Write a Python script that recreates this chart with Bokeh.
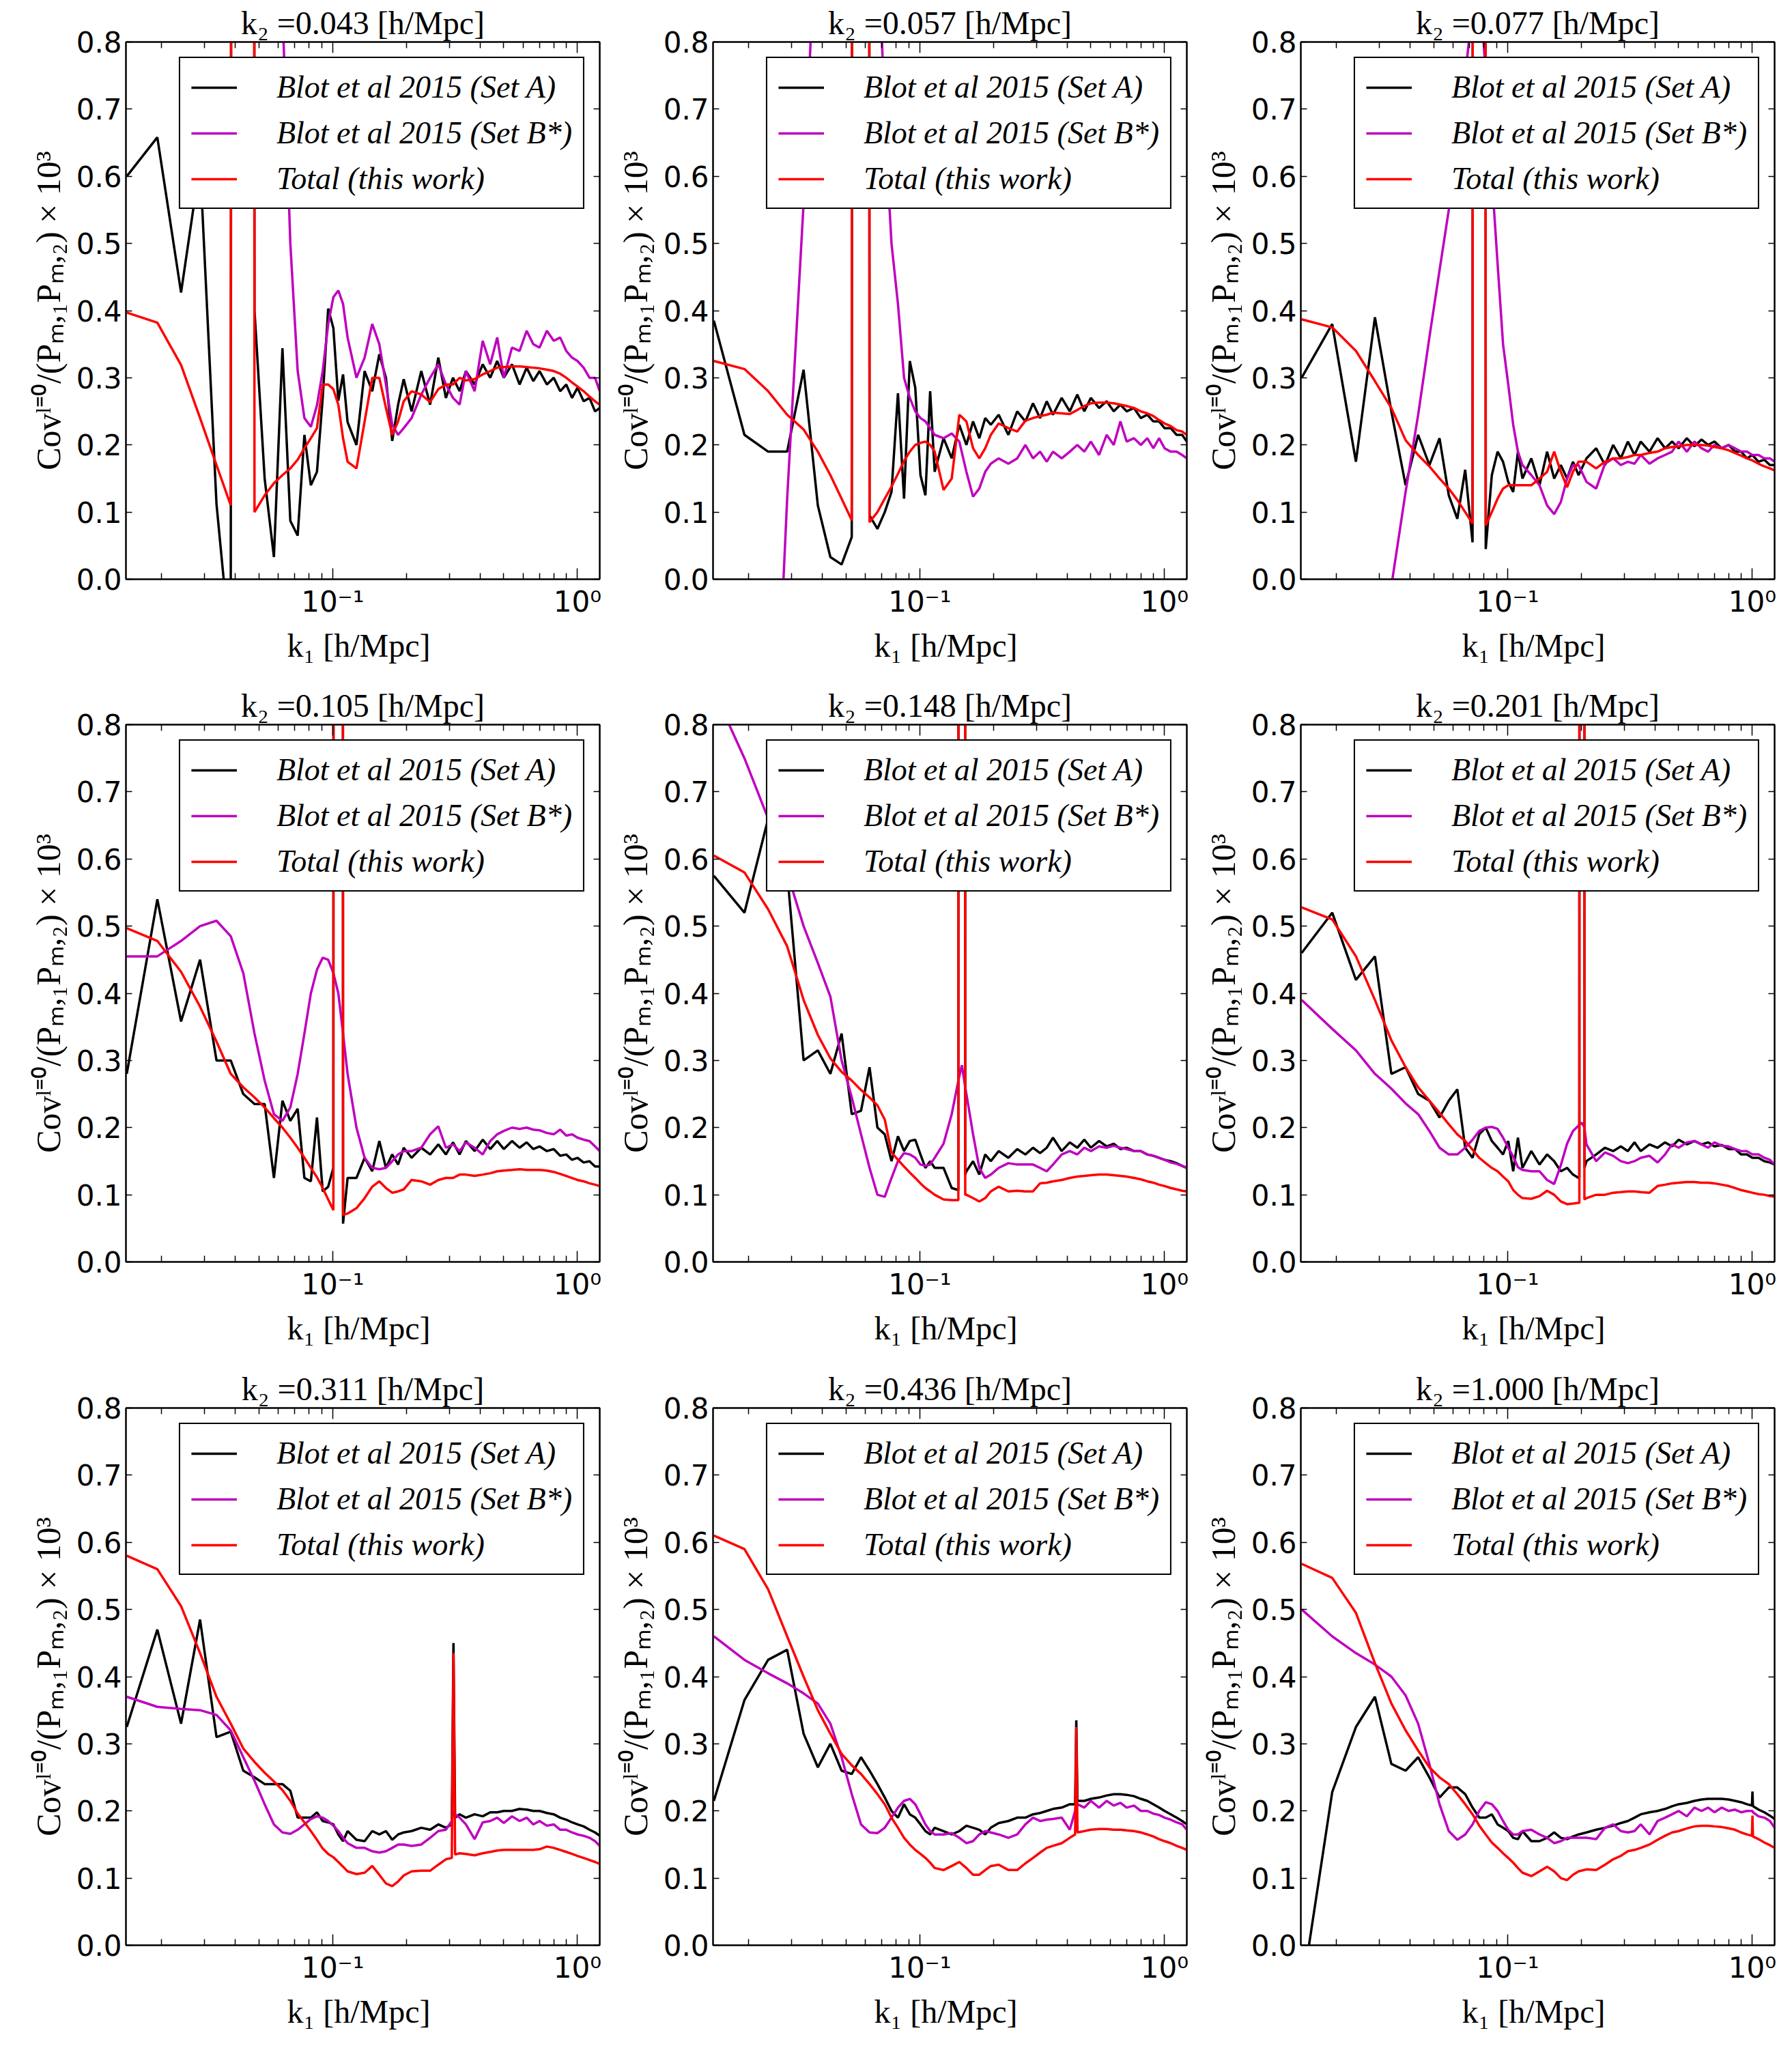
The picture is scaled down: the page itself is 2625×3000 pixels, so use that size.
from bokeh.plotting import figure
from bokeh.layouts import gridplot
from bokeh.models import FixedTicker, PrintfTickFormatter, LinearAxis, LogAxis
from bokeh.embed import file_html
from bokeh.resources import INLINE

# ---------------------------------------------------------------- k1 grid [h/Mpc]
K_LOW = [0.0144, 0.0192, 0.0240, 0.0287, 0.0335, 0.0383, 0.0431, 0.0479, 0.0527, 0.0575, 0.0623,
         0.0671, 0.0719, 0.0766, 0.0814, 0.0862, 0.0910, 0.0958, 0.1006, 0.1054, 0.1102, 0.1150]
K_MID = [0.125, 0.135, 0.145, 0.155, 0.165, 0.175, 0.185, 0.195]
K_HIGH = [0.21, 0.23, 0.25, 0.27, 0.29, 0.31, 0.33, 0.35, 0.38, 0.41, 0.44, 0.47, 0.50, 0.54,
          0.58, 0.62, 0.66, 0.70, 0.75, 0.80, 0.85, 0.90, 0.95, 1.00, 1.06, 1.12, 1.18, 1.233]
K_GRID = K_LOW + K_MID + K_HIGH

K2_LABELS = ["0.043", "0.057", "0.077", "0.105", "0.148", "0.201", "0.311", "0.436", "1.000"]

# ---------------------------------------------------------------- panel 1 (k2 = 0.043)
SET_A_1 = [0.60, 0.658, 0.427, 0.62, 0.112, -0.11, 30.0, 0.40, 0.15, 0.033, 0.344, 0.087, 0.065, 0.215, 0.14, 0.16, 0.27, 0.403, 0.374, 0.266, 0.305, 0.234,
           0.20, 0.31, 0.28, 0.335, 0.30, 0.206, 0.26, 0.298,
           0.25, 0.31, 0.26, 0.33, 0.27, 0.30, 0.28, 0.31, 0.29, 0.32, 0.30, 0.325, 0.30, 0.32, 0.29, 0.315, 0.295, 0.31, 0.29, 0.30, 0.28, 0.29, 0.27, 0.285, 0.265, 0.27, 0.25, 0.255]
SET_B_1 = [2.0, 2.0, 2.0, 2.0, 2.0, 2.0, 2.0, 2.0, 2.0, 1.5, 0.85, 0.50, 0.31, 0.24, 0.227, 0.259, 0.31, 0.38, 0.42, 0.43, 0.41, 0.36,
           0.30, 0.33, 0.38, 0.35, 0.29, 0.23, 0.215, 0.225,
           0.24, 0.275, 0.30, 0.32, 0.29, 0.27, 0.26, 0.31, 0.28, 0.355, 0.32, 0.36, 0.30, 0.345, 0.34, 0.37, 0.35, 0.345, 0.37, 0.355, 0.36, 0.34, 0.33, 0.325, 0.315, 0.30, 0.30, 0.28]
TOTAL_1 = [0.397, 0.382, 0.319, 0.24, 0.17, 0.11, 30.0, 0.10, 0.125, 0.143, 0.155, 0.165, 0.178, 0.195, 0.21, 0.225, 0.29, 0.29, 0.283, 0.26, 0.21, 0.175,
           0.165, 0.235, 0.30, 0.30, 0.255, 0.215, 0.235, 0.265,
           0.28, 0.275, 0.264, 0.283, 0.29, 0.29, 0.30, 0.296, 0.298, 0.305, 0.31, 0.315, 0.316, 0.317, 0.317, 0.316, 0.315, 0.314, 0.312, 0.31, 0.306, 0.30, 0.293, 0.287, 0.28, 0.272, 0.265, 0.26]

# ---------------------------------------------------------------- panel 2 (k2 = 0.057)
SET_A_2 = [0.385, 0.215, 0.19, 0.19, 0.312, 0.11, 0.033, 0.022, 0.063, 30.0, 0.095, 0.075, 0.10, 0.13, 0.277, 0.12, 0.325, 0.285, 0.155, 0.125, 0.28, 0.16,
           0.21, 0.18, 0.23, 0.20, 0.235, 0.21, 0.24, 0.23,
           0.245, 0.215, 0.25, 0.235, 0.262, 0.24, 0.265, 0.245, 0.27, 0.25, 0.275, 0.25, 0.27, 0.255, 0.265, 0.25, 0.26, 0.25, 0.255, 0.24, 0.245, 0.235, 0.235, 0.225, 0.225, 0.215, 0.215, 0.205]
SET_B_2 = [-2.0, -1.5, -0.5, 0.12, 0.56, 1.05, 2.0, 2.0, 2.0, 2.0, 2.0, 1.0, 0.68, 0.50, 0.41, 0.30, 0.27, 0.25, 0.24, 0.235, 0.225, 0.215,
           0.21, 0.217, 0.205, 0.16, 0.123, 0.135, 0.16, 0.172,
           0.18, 0.172, 0.18, 0.20, 0.18, 0.19, 0.175, 0.19, 0.18, 0.19, 0.20, 0.19, 0.205, 0.185, 0.215, 0.20, 0.235, 0.205, 0.21, 0.20, 0.21, 0.195, 0.21, 0.195, 0.19, 0.19, 0.185, 0.18]
TOTAL_2 = [0.325, 0.313, 0.28, 0.245, 0.223, 0.19, 0.155, 0.12, 0.088, 30.0, 0.085, 0.10, 0.12, 0.138, 0.157, 0.176, 0.19, 0.20, 0.203, 0.205, 0.20, 0.19,
           0.133, 0.15, 0.245, 0.235, 0.195, 0.18, 0.195, 0.215,
           0.232, 0.225, 0.22, 0.236, 0.24, 0.243, 0.245, 0.248, 0.247, 0.246, 0.252, 0.258, 0.262, 0.263, 0.263, 0.262, 0.26, 0.258, 0.255, 0.25, 0.247, 0.243, 0.237, 0.232, 0.228, 0.222, 0.22, 0.215]

# ---------------------------------------------------------------- panel 3 (k2 = 0.077)
SET_A_3 = [0.30, 0.38, 0.175, 0.39, 0.25, 0.14, 0.215, 0.17, 0.21, 0.125, 0.09, 0.163, 0.055, 30.0, 0.045, 0.155, 0.19, 0.175, 0.145, 0.13, 0.19, 0.15,
           0.18, 0.14, 0.19, 0.15, 0.17, 0.15, 0.175, 0.155,
           0.18, 0.195, 0.17, 0.20, 0.18, 0.205, 0.185, 0.205, 0.19, 0.21, 0.195, 0.205, 0.195, 0.21, 0.198, 0.208, 0.20, 0.205, 0.195, 0.20, 0.19, 0.19, 0.18, 0.185, 0.175, 0.178, 0.17, 0.17]
SET_B_3 = [-0.5, -0.5, -0.5, -0.3, -0.01, 0.13, 0.245, 0.36, 0.46, 0.55, 0.64, 0.75, 0.85, 0.9, 0.75, 0.6, 0.47, 0.35, 0.29, 0.23, 0.19, 0.17,
           0.155, 0.14, 0.11, 0.097, 0.115, 0.15, 0.17, 0.17,
           0.145, 0.135, 0.172, 0.18, 0.17, 0.175, 0.172, 0.185, 0.172, 0.18, 0.185, 0.19, 0.205, 0.19, 0.205, 0.195, 0.19, 0.20, 0.195, 0.20, 0.195, 0.19, 0.19, 0.185, 0.185, 0.18, 0.18, 0.175]
TOTAL_3 = [0.387, 0.375, 0.34, 0.295, 0.255, 0.207, 0.185, 0.168, 0.15, 0.135, 0.118, 0.10, 0.083, 30.0, 0.08, 0.10, 0.12, 0.135, 0.14, 0.14, 0.14, 0.14,
           0.14, 0.15, 0.16, 0.19, 0.16, 0.137, 0.16, 0.175,
           0.175, 0.165, 0.175, 0.18, 0.18, 0.182, 0.185, 0.185, 0.188, 0.19, 0.195, 0.197, 0.198, 0.20, 0.20, 0.20, 0.199, 0.197, 0.195, 0.192, 0.188, 0.184, 0.18, 0.177, 0.172, 0.168, 0.165, 0.162]

# ---------------------------------------------------------------- panel 4 (k2 = 0.105)
SET_A_4 = [0.28, 0.54, 0.358, 0.45, 0.30, 0.30, 0.25, 0.235, 0.235, 0.125, 0.24, 0.21, 0.228, 0.125, 0.12, 0.215, 0.105, 0.112, 0.14, 30.0, 0.057, 0.125,
           0.125, 0.155, 0.135, 0.18, 0.14, 0.16, 0.145, 0.17,
           0.155, 0.17, 0.16, 0.175, 0.16, 0.178, 0.16, 0.18, 0.165, 0.182, 0.168, 0.18, 0.168, 0.18, 0.17, 0.178, 0.168, 0.172, 0.165, 0.168, 0.158, 0.16, 0.152, 0.155, 0.148, 0.15, 0.142, 0.142]
SET_B_4 = [0.455, 0.455, 0.478, 0.50, 0.508, 0.485, 0.43, 0.34, 0.27, 0.22, 0.21, 0.23, 0.28, 0.34, 0.40, 0.435, 0.453, 0.45, 0.43, 0.40, 0.34, 0.28,
           0.20, 0.155, 0.14, 0.138, 0.14, 0.15, 0.16, 0.165,
           0.165, 0.17, 0.19, 0.202, 0.17, 0.175, 0.165, 0.178, 0.17, 0.16, 0.18, 0.19, 0.195, 0.20, 0.198, 0.20, 0.197, 0.196, 0.192, 0.19, 0.197, 0.188, 0.19, 0.185, 0.182, 0.18, 0.172, 0.165]
TOTAL_4 = [0.497, 0.478, 0.432, 0.38, 0.328, 0.28, 0.26, 0.245, 0.23, 0.214, 0.20, 0.185, 0.17, 0.155, 0.14, 0.126, 0.11, 0.093, 0.077, 30.0, 0.07, 0.072,
           0.08, 0.095, 0.112, 0.12, 0.11, 0.103, 0.105, 0.108,
           0.122, 0.12, 0.115, 0.122, 0.125, 0.125, 0.13, 0.13, 0.128, 0.13, 0.132, 0.135, 0.136, 0.137, 0.138, 0.137, 0.137, 0.137, 0.136, 0.134, 0.131, 0.128, 0.125, 0.122, 0.12, 0.117, 0.115, 0.113]

# ---------------------------------------------------------------- panel 5 (k2 = 0.148)
SET_A_5 = [0.575, 0.52, 0.66, 0.58, 0.30, 0.315, 0.28, 0.34, 0.22, 0.225, 0.29, 0.20, 0.19, 0.15, 0.187, 0.165, 0.18, 0.182, 0.16, 0.14, 0.15, 0.14,
           0.14, 0.11, 0.12, 0.135, 0.15, 0.13, 0.16, 0.15,
           0.165, 0.155, 0.168, 0.16, 0.17, 0.162, 0.17, 0.185, 0.165, 0.178, 0.17, 0.182, 0.17, 0.18, 0.172, 0.176, 0.168, 0.17, 0.165, 0.165, 0.16, 0.158, 0.155, 0.152, 0.15, 0.147, 0.143, 0.14]
SET_B_5 = [0.85, 0.75, 0.66, 0.58, 0.50, 0.445, 0.395, 0.30, 0.245, 0.19, 0.14, 0.10, 0.097, 0.125, 0.15, 0.162, 0.16, 0.155, 0.145, 0.143, 0.145, 0.155,
           0.176, 0.22, 0.26, 0.25, 0.19, 0.14, 0.125, 0.13,
           0.14, 0.147, 0.145, 0.145, 0.145, 0.14, 0.135, 0.145, 0.16, 0.165, 0.16, 0.17, 0.165, 0.172, 0.17, 0.173, 0.17, 0.168, 0.165, 0.165, 0.16, 0.158, 0.155, 0.152, 0.148, 0.146, 0.143, 0.14]
TOTAL_5 = [0.605, 0.58, 0.525, 0.47, 0.39, 0.338, 0.303, 0.283, 0.27, 0.256, 0.245, 0.233, 0.212, 0.163, 0.152, 0.142, 0.133, 0.125, 0.117, 0.11, 0.105, 0.10,
           0.093, 0.092, 0.092, 0.10, 0.095, 0.09, 0.095, 0.105,
           0.112, 0.105, 0.106, 0.105, 0.105, 0.117, 0.118, 0.12, 0.122, 0.125, 0.127, 0.128, 0.129, 0.13, 0.13, 0.129, 0.128, 0.127, 0.125, 0.123, 0.12, 0.118, 0.115, 0.113, 0.11, 0.108, 0.106, 0.105]

# ---------------------------------------------------------------- panel 6 (k2 = 0.201)
SET_A_6 = [0.46, 0.52, 0.42, 0.455, 0.28, 0.29, 0.25, 0.24, 0.215, 0.24, 0.257, 0.17, 0.155, 0.19, 0.20, 0.18, 0.17, 0.16, 0.18, 0.135, 0.185, 0.14,
           0.165, 0.145, 0.16, 0.15, 0.135, 0.14, 0.13, 0.125,
           0.15, 0.16, 0.17, 0.165, 0.172, 0.165, 0.178, 0.165, 0.175, 0.17, 0.178, 0.172, 0.182, 0.175, 0.18, 0.175, 0.178, 0.172, 0.174, 0.168, 0.168, 0.16, 0.16, 0.155, 0.155, 0.15, 0.148, 0.145]
SET_B_6 = [0.39, 0.347, 0.315, 0.28, 0.258, 0.236, 0.22, 0.195, 0.17, 0.16, 0.16, 0.17, 0.182, 0.195, 0.20, 0.201, 0.198, 0.185, 0.17, 0.157, 0.141, 0.137,
           0.135, 0.135, 0.122, 0.116, 0.144, 0.176, 0.195, 0.203,
           0.175, 0.15, 0.163, 0.158, 0.15, 0.147, 0.15, 0.155, 0.158, 0.148, 0.16, 0.175, 0.17, 0.178, 0.18, 0.175, 0.17, 0.178, 0.173, 0.172, 0.168, 0.165, 0.165, 0.16, 0.16, 0.155, 0.152, 0.145]
TOTAL_6 = [0.528, 0.51, 0.455, 0.39, 0.33, 0.29, 0.26, 0.24, 0.222, 0.205, 0.19, 0.18, 0.167, 0.155, 0.147, 0.14, 0.135, 0.127, 0.12, 0.107, 0.10, 0.095,
           0.094, 0.098, 0.106, 0.10, 0.09, 0.086, 0.087, 0.088,
           0.095, 0.10, 0.10, 0.103, 0.104, 0.105, 0.105, 0.104, 0.103, 0.113, 0.115, 0.117, 0.118, 0.119, 0.119, 0.118, 0.118, 0.117, 0.115, 0.113, 0.11, 0.107, 0.105, 0.103, 0.101, 0.10, 0.098, 0.097]

# ---------------------------------------------------------------- panel 7 (k2 = 0.311)
SET_A_7 = [0.325, 0.47, 0.33, 0.485, 0.31, 0.318, 0.26, 0.25, 0.24, 0.24, 0.24, 0.23, 0.19, 0.19, 0.19, 0.198, 0.185, 0.183, 0.18, 0.165, 0.155, 0.17,
           0.157, 0.155, 0.17, 0.165, 0.17, 0.157, 0.165, 0.168,
           0.17, 0.175, 0.172, 0.18, 0.175, 0.18, 0.195, 0.19, 0.195, 0.192, 0.198, 0.198, 0.20, 0.20, 0.203, 0.202, 0.20, 0.20, 0.197, 0.195, 0.19, 0.187, 0.183, 0.18, 0.177, 0.172, 0.168, 0.163]
SET_B_7 = [0.37, 0.355, 0.352, 0.35, 0.343, 0.32, 0.28, 0.245, 0.21, 0.18, 0.168, 0.166, 0.172, 0.18, 0.188, 0.192, 0.19, 0.185, 0.178, 0.17, 0.16, 0.152,
           0.145, 0.145, 0.14, 0.138, 0.14, 0.145, 0.15, 0.15,
           0.148, 0.15, 0.16, 0.17, 0.172, 0.18, 0.19, 0.18, 0.158, 0.183, 0.185, 0.19, 0.182, 0.192, 0.185, 0.19, 0.18, 0.185, 0.178, 0.18, 0.172, 0.172, 0.168, 0.165, 0.163, 0.16, 0.155, 0.148]
TOTAL_7 = [0.58, 0.56, 0.505, 0.435, 0.37, 0.33, 0.293, 0.273, 0.257, 0.244, 0.231, 0.215, 0.196, 0.183, 0.17, 0.157, 0.144, 0.136, 0.131, 0.124, 0.117, 0.11,
           0.106, 0.108, 0.118, 0.105, 0.092, 0.088, 0.095, 0.104,
           0.11, 0.111, 0.111, 0.12, 0.128, 0.13, 0.137, 0.136, 0.134, 0.137, 0.139, 0.141, 0.142, 0.142, 0.142, 0.142, 0.142, 0.143, 0.147, 0.145, 0.142, 0.139, 0.136, 0.133, 0.13, 0.127, 0.124, 0.121]

# ---------------------------------------------------------------- panel 8 (k2 = 0.436)
SET_A_8 = [0.215, 0.365, 0.425, 0.44, 0.315, 0.265, 0.30, 0.26, 0.255, 0.28, 0.26, 0.24, 0.22, 0.20, 0.19, 0.21, 0.195, 0.19, 0.18, 0.17, 0.165, 0.175,
           0.17, 0.165, 0.17, 0.178, 0.175, 0.172, 0.165, 0.175,
           0.182, 0.185, 0.19, 0.19, 0.195, 0.197, 0.20, 0.203, 0.205, 0.21, 0.21, 0.215, 0.218, 0.22, 0.223, 0.225, 0.225, 0.224, 0.222, 0.218, 0.215, 0.21, 0.205, 0.20, 0.195, 0.19, 0.185, 0.18]
SET_B_8 = [0.46, 0.425, 0.405, 0.39, 0.375, 0.36, 0.33, 0.28, 0.225, 0.18, 0.168, 0.167, 0.175, 0.19, 0.205, 0.215, 0.218, 0.21, 0.195, 0.18, 0.17, 0.165,
           0.165, 0.167, 0.16, 0.152, 0.155, 0.165, 0.17, 0.168,
           0.165, 0.16, 0.165, 0.18, 0.19, 0.185, 0.187, 0.188, 0.19, 0.172, 0.20, 0.205, 0.215, 0.205, 0.215, 0.208, 0.212, 0.205, 0.208, 0.20, 0.20, 0.196, 0.194, 0.19, 0.187, 0.183, 0.18, 0.172]
TOTAL_8 = [0.61, 0.59, 0.53, 0.46, 0.40, 0.35, 0.315, 0.285, 0.268, 0.255, 0.24, 0.225, 0.21, 0.19, 0.175, 0.16, 0.15, 0.142, 0.136, 0.13, 0.123, 0.115,
           0.112, 0.118, 0.124, 0.115, 0.105, 0.105, 0.112, 0.118,
           0.12, 0.112, 0.112, 0.122, 0.13, 0.138, 0.145, 0.148, 0.152, 0.16, 0.165, 0.17, 0.172, 0.173, 0.173, 0.172, 0.172, 0.171, 0.17, 0.168, 0.165, 0.162, 0.158, 0.155, 0.152, 0.148, 0.145, 0.142]

# ---------------------------------------------------------------- panel 9 (k2 = 1.000)
SET_A_9 = [-0.072, 0.228, 0.325, 0.37, 0.27, 0.26, 0.28, 0.25, 0.22, 0.235, 0.235, 0.225, 0.205, 0.19, 0.19, 0.195, 0.18, 0.175, 0.17, 0.16, 0.158, 0.17,
           0.155, 0.155, 0.16, 0.168, 0.16, 0.158, 0.162, 0.165,
           0.168, 0.172, 0.175, 0.178, 0.182, 0.185, 0.19, 0.195, 0.198, 0.20, 0.203, 0.207, 0.21, 0.212, 0.215, 0.217, 0.218, 0.218, 0.218, 0.217, 0.215, 0.213, 0.21, 0.208, 0.202, 0.198, 0.193, 0.188]
SET_B_9 = [0.50, 0.46, 0.435, 0.418, 0.40, 0.372, 0.33, 0.27, 0.21, 0.17, 0.157, 0.165, 0.18, 0.20, 0.213, 0.21, 0.20, 0.185, 0.172, 0.165, 0.165, 0.17,
           0.172, 0.165, 0.16, 0.152, 0.155, 0.16, 0.16, 0.16,
           0.16, 0.158, 0.175, 0.18, 0.17, 0.168, 0.17, 0.18, 0.165, 0.185, 0.19, 0.195, 0.20, 0.192, 0.205, 0.20, 0.205, 0.198, 0.205, 0.20, 0.202, 0.198, 0.20, 0.20, 0.192, 0.19, 0.185, 0.175]
TOTAL_9 = [0.568, 0.547, 0.495, 0.42, 0.36, 0.32, 0.29, 0.265, 0.25, 0.24, 0.225, 0.21, 0.195, 0.178, 0.165, 0.153, 0.145, 0.137, 0.13, 0.123, 0.115, 0.108,
           0.103, 0.11, 0.117, 0.11, 0.10, 0.097, 0.105, 0.11,
           0.113, 0.112, 0.12, 0.128, 0.133, 0.14, 0.142, 0.145, 0.15, 0.157, 0.163, 0.168, 0.17, 0.174, 0.177, 0.178, 0.178, 0.177, 0.176, 0.174, 0.172, 0.168, 0.165, 0.163, 0.158, 0.153, 0.149, 0.145]

# ---------------------------------------------------------------- diagonal spikes at k1 ~ k2 (panels 5-9)
SPIKE_K_5 = [0.1437, 0.1485, 0.1533]
SPIKE_A_5, SPIKE_B_5, SPIKE_T_5 = [0.107, 30.0, 0.13], [0.27, 0.293, 0.26], [0.092, 30.0, 0.10]
SPIKE_K_6 = [0.1964, 0.2012, 0.2060]
SPIKE_A_6, SPIKE_B_6, SPIKE_T_6 = [0.125, 30.0, 0.14], [0.205, 0.207, 0.20], [0.088, 30.0, 0.093]
SPIKE_K_7 = [0.3066, 0.3114, 0.3162]
SPIKE_A_7, SPIKE_B_7, SPIKE_T_7 = [0.18, 0.45, 0.19], [0.185, 0.20, 0.195], [0.13, 0.435, 0.135]
SPIKE_K_8 = [0.4311, 0.4359, 0.4407]
SPIKE_A_8, SPIKE_B_8, SPIKE_T_8 = [0.21, 0.335, 0.215], [0.20, 0.215, 0.21], [0.165, 0.325, 0.168]
SPIKE_K_9 = [0.9963, 1.0011, 1.0059]
SPIKE_A_9, SPIKE_B_9, SPIKE_T_9 = [0.208, 0.229, 0.207], [0.20, 0.20, 0.198], [0.163, 0.193, 0.162]

SET_A = [SET_A_1, SET_A_2, SET_A_3, SET_A_4, SET_A_5, SET_A_6, SET_A_7, SET_A_8, SET_A_9]
SET_B = [SET_B_1, SET_B_2, SET_B_3, SET_B_4, SET_B_5, SET_B_6, SET_B_7, SET_B_8, SET_B_9]
TOTAL = [TOTAL_1, TOTAL_2, TOTAL_3, TOTAL_4, TOTAL_5, TOTAL_6, TOTAL_7, TOTAL_8, TOTAL_9]
SPIKES = [None, None, None, None,
          (SPIKE_K_5, SPIKE_A_5, SPIKE_B_5, SPIKE_T_5),
          (SPIKE_K_6, SPIKE_A_6, SPIKE_B_6, SPIKE_T_6),
          (SPIKE_K_7, SPIKE_A_7, SPIKE_B_7, SPIKE_T_7),
          (SPIKE_K_8, SPIKE_A_8, SPIKE_B_8, SPIKE_T_8),
          (SPIKE_K_9, SPIKE_A_9, SPIKE_B_9, SPIKE_T_9)]

LEGEND_LABELS = ["Blot et al 2015 (Set A)", "Blot et al 2015 (Set B*)", "Total (this work)"]
COLORS = ["#000000", "#BF00BF", "#FF0000"]

# ---------------------------------------------------------------- axes / ticks
X_MIN, X_MAX = 0.01429, 1.233
Y_TICKS = [0.0, 0.1, 0.2, 0.3, 0.4, 0.5, 0.6, 0.7, 0.8]
X_TICKS = [0.1, 1.0]
X_MINOR = [0.02, 0.03, 0.04, 0.05, 0.06, 0.07, 0.08, 0.09, 0.2, 0.3, 0.4, 0.5, 0.6, 0.7, 0.8, 0.9]
X_TICK_TEXT = {0.1: "10\u207b\u00b9", 1.0: "10\u2070"}

SERIF = "Liberation Serif"
SANS = "DejaVu Sans"

COL_W = [888, 860, 861]
COL_LEFT = [184, 156, 157]
ROW_H = [978, 1000, 1001]
ROW_TOP = [61, 83, 84]
BOTTOM, RIGHT = 130, 10


def series_xy(vals, spike_k=None, spike_v=None):
    pts = list(zip(K_GRID, vals))
    if spike_k is not None:
        lo, hi = min(spike_k), max(spike_k)
        pts = [pt for pt in pts if not (lo < pt[0] < hi)]
        pts += list(zip(spike_k, spike_v))
        pts.sort(key=lambda t: t[0])
    return [pt[0] for pt in pts], [pt[1] for pt in pts]


def make_panel(i):
    r, c = divmod(i, 3)
    p = figure(width=COL_W[c], height=ROW_H[r], x_axis_type="log",
               x_range=(X_MIN, X_MAX), y_range=(0.0, 0.8),
               output_backend="svg", toolbar_location=None,
               min_border_left=COL_LEFT[c], min_border_right=RIGHT,
               min_border_top=ROW_TOP[r], min_border_bottom=BOTTOM,
               background_fill_color="white", border_fill_color="white",
               outline_line_color="black", outline_line_width=2)
    p.xgrid.grid_line_color = None
    p.ygrid.grid_line_color = None

    # title
    p.title.text = "k\u2082 =" + K2_LABELS[i] + " [h/Mpc]"
    p.title.align = "center"
    p.title.text_font = SERIF
    p.title.text_font_size = "48px"
    p.title.text_font_style = "normal"
    p.title.text_color = "black"
    p.title.standoff = 4
    p.title.offset = 0

    sp = SPIKES[i]
    series = [SET_A[i], SET_B[i], TOTAL[i]]
    for j, vals in enumerate(series):
        if sp is None:
            xs, ys = series_xy(vals)
        else:
            xs, ys = series_xy(vals, sp[0], sp[1 + j])
        p.line(xs, ys, line_color=COLORS[j], line_width=3.5, legend_label=LEGEND_LABELS[j])

    # bottom x axis
    xa = p.xaxis[0]
    xa.ticker = FixedTicker(ticks=X_TICKS, minor_ticks=X_MINOR)
    xa.major_label_overrides = X_TICK_TEXT
    xa.major_label_text_font = SANS
    xa.major_label_text_font_size = "42px"
    xa.major_label_text_color = "black"
    xa.major_label_standoff = 8
    xa.major_tick_in, xa.major_tick_out = 16, 0
    xa.minor_tick_in, xa.minor_tick_out = 9, 0
    xa.major_tick_line_width = 1.5
    xa.minor_tick_line_width = 1.5
    xa.axis_line_width = 2
    xa.axis_label = "k\u2081  [h/Mpc]"
    xa.axis_label_text_font = SERIF
    xa.axis_label_text_font_size = "48px"
    xa.axis_label_text_font_style = "normal"
    xa.axis_label_text_color = "black"
    xa.axis_label_standoff = 10

    # left y axis
    ya = p.yaxis[0]
    ya.ticker = FixedTicker(ticks=Y_TICKS)
    ya.formatter = PrintfTickFormatter(format="%.1f")
    ya.major_label_text_font = SANS
    ya.major_label_text_font_size = "42px"
    ya.major_label_text_color = "black"
    ya.major_label_standoff = 6
    ya.major_tick_in, ya.major_tick_out = 9, 0
    ya.minor_tick_line_color = None
    ya.major_tick_line_width = 1.5
    ya.axis_line_width = 2
    ya.axis_label = "Cov\u02e1\u207c\u2070/(P\u2098,\u2081P\u2098,\u2082) \u00d7 10\u00b3"
    ya.axis_label_text_font = SERIF
    ya.axis_label_text_font_size = "50px"
    ya.axis_label_text_font_style = "normal"
    ya.axis_label_text_color = "black"
    ya.axis_label_standoff = 10

    # right / top tick-only axes (labels invisible)
    ra = LinearAxis(ticker=FixedTicker(ticks=Y_TICKS), major_label_text_font_size="2px",
                    major_label_text_alpha=0.0,
                    major_label_standoff=0, major_tick_in=9, major_tick_out=0,
                    minor_tick_line_color=None, major_tick_line_width=1.5, axis_line_width=2)
    p.add_layout(ra, "right")
    ta = LogAxis(ticker=FixedTicker(ticks=X_TICKS, minor_ticks=X_MINOR), major_label_text_font_size="2px",
                 major_label_text_alpha=0.0,
                 major_label_standoff=0, major_tick_in=16, major_tick_out=0,
                 minor_tick_in=9, minor_tick_out=0, major_tick_line_width=1.5,
                 minor_tick_line_width=1.5, axis_line_width=2)
    p.add_layout(ta, "above")

    lg = p.legend[0]
    lg.location = "top_right"
    lg.margin = 22
    lg.padding = 16
    lg.spacing = 14
    lg.glyph_width = 67
    lg.glyph_height = 30
    lg.label_standoff = 58
    lg.label_text_font = SERIF
    lg.label_text_font_style = "italic"
    lg.label_text_font_size = "46px"
    lg.label_text_color = "black"
    lg.border_line_color = "black"
    lg.border_line_alpha = 1.0
    lg.border_line_width = 2
    lg.background_fill_color = "white"
    lg.background_fill_alpha = 1.0
    return p


panels = [make_panel(i) for i in range(9)]
grid = gridplot([panels[0:3], panels[3:6], panels[6:9]], toolbar_location=None)

open("out.html", "w", encoding="utf-8").write(file_html(grid, INLINE))
